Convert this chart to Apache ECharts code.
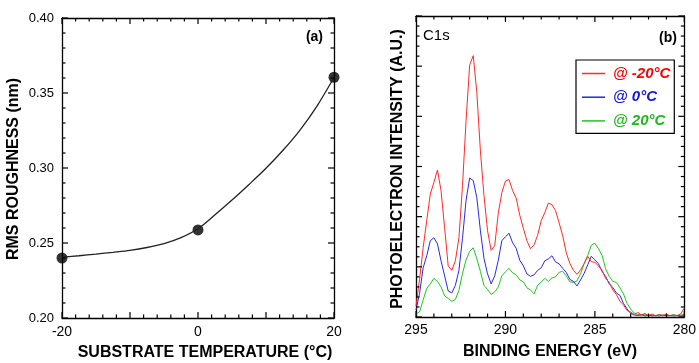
<!DOCTYPE html>
<html>
<head>
<meta charset="utf-8">
<script src="https://cdn.jsdelivr.net/npm/echarts@6/dist/echarts.min.js"></script>
<style>
  html, body { margin: 0; padding: 0; background: #fff; }
  #chart { width: 699px; height: 363px; }
</style>
</head>
<body>
<div id="chart"></div>
<script>
// (a) RMS roughness vs substrate temperature
const temps = [-20, 0, 20];
const roughness = [0.2400, 0.2587, 0.3605];
// smooth guide curve
const fitTemps = [-20, -17.5, -15, -12.5, -10, -7.5, -5, -2.5, 0, 2.5, 5, 7.5, 10, 12.5, 15, 17.5, 20];
const fitValues = [0.2405, 0.2415, 0.2426, 0.2438, 0.2451, 0.2470, 0.2496, 0.2536, 0.2595,
                   0.2688, 0.2786, 0.2890, 0.2998, 0.3118, 0.3253, 0.3413, 0.3603];

// (b) C1s spectra, binding energy in eV
const energies = [
  295.0, 294.8, 294.6, 294.4, 294.2, 294.0, 293.8, 293.6, 293.4, 293.2,
  293.0, 292.8, 292.6, 292.4, 292.2, 292.0, 291.8, 291.6, 291.4, 291.2,
  291.0, 290.8, 290.6, 290.4, 290.2, 290.0, 289.8, 289.6, 289.4, 289.2,
  289.0, 288.8, 288.6, 288.4, 288.2, 288.0, 287.8, 287.6, 287.4, 287.2,
  287.0, 286.8, 286.6, 286.4, 286.2, 286.0, 285.8, 285.6, 285.4, 285.2,
  285.0, 284.8, 284.6, 284.4, 284.2, 284.0, 283.8, 283.6, 283.4, 283.2,
  283.0, 282.8, 282.6, 282.4, 282.2, 282.0, 281.8, 281.6, 281.4, 281.2,
  281.0, 280.8, 280.6, 280.4, 280.2, 280.0
];
const minus20 = [
  0.22, 0.75, 1.38, 1.92, 2.45, 2.68, 2.93, 2.52, 1.78, 1.02,
  0.93, 1.12, 1.58, 2.62, 3.92, 5.02, 5.21, 4.48, 3.31, 2.42,
  1.72, 1.33, 1.42, 2.07, 2.48, 2.71, 2.74, 2.52, 2.37, 2.03,
  1.77, 1.52, 1.36, 1.44, 1.63, 1.92, 2.08, 2.27, 2.24, 2.12,
  1.88, 1.62, 1.28, 1.07, 0.93, 0.85, 0.94, 1.06, 1.21, 1.10,
  1.09, 1.02, 0.93, 0.77, 0.69, 0.54, 0.45, 0.31, 0.24, 0.13,
  0.10, 0.05, 0.09, 0.04, 0.07, 0.03, 0.06, 0.02, 0.05, 0.03,
  0.06, 0.02, 0.04, 0.03, 0.06, 0.18
];
const zero = [
  0.14, 0.47, 0.98, 1.22, 1.52, 1.58, 1.46, 1.12, 0.82, 0.52,
  0.48, 0.63, 0.93, 1.57, 2.33, 2.77, 2.72, 2.38, 1.72, 1.17,
  0.86, 0.66, 0.82, 1.13, 1.52, 1.60, 1.67, 1.48, 1.37, 1.13,
  1.02, 0.86, 0.81, 0.84, 0.93, 0.98, 1.12, 1.16, 1.22, 1.10,
  1.06, 0.97, 0.89, 0.75, 0.71, 0.62, 0.74, 0.87, 1.04, 1.21,
  1.14, 1.06, 0.91, 0.81, 0.66, 0.59, 0.48, 0.43, 0.27, 0.16,
  0.07, 0.04, 0.03, 0.05, 0.02, 0.04, 0.02, 0.03, 0.02, 0.04,
  0.02, 0.03, 0.02, 0.03, 0.02, 0.03
];
const plus20 = [
  0.06, 0.10, 0.34, 0.57, 0.66, 0.77, 0.71, 0.60, 0.42, 0.37,
  0.31, 0.35, 0.53, 0.87, 1.14, 1.31, 1.38, 1.16, 0.91, 0.63,
  0.55, 0.45, 0.50, 0.60, 0.82, 0.90, 0.97, 0.88, 0.84, 0.74,
  0.70, 0.58, 0.54, 0.46, 0.63, 0.70, 0.77, 0.71, 0.78, 0.80,
  0.89, 0.91, 0.82, 0.70, 0.69, 0.72, 0.86, 1.07, 1.23, 1.43,
  1.47, 1.36, 1.23, 0.96, 0.81, 0.71, 0.69, 0.58, 0.46, 0.27,
  0.16, 0.08, 0.05, 0.03, 0.06, 0.02, 0.04, 0.03, 0.05, 0.02,
  0.04, 0.03, 0.05, 0.02, 0.04, 0.05
];
const legendNames = ["@ -20°C", "@ 0°C", "@ 20°C"];
const lineColors = ["#ff2a2a", "#2a2ae0", "#22c422"];
const textColors = ["#ff0000", "#1414dc", "#1fb81f"];

// tick marks of both frames (drawn inward on all four sides)
const aXMajor = [-20, -10, 0, 10, 20];
const aXMinor = [-18, -16, -14, -12, -8, -6, -4, -2, 2, 4, 6, 8, 12, 14, 16, 18];
const aYMajor = [0.20, 0.25, 0.30, 0.35, 0.40];
const aYMinor = [0.21, 0.22, 0.23, 0.24, 0.26, 0.27, 0.28, 0.29,
                 0.31, 0.32, 0.33, 0.34, 0.36, 0.37, 0.38, 0.39];
const bXMajor = [295, 290, 285, 280];
const bXMinor = [294, 293, 292, 291, 289, 288, 287, 286, 284, 283, 282, 281];
const bYMajor = [0, 1, 2, 3, 4, 5, 6];
const bYMinor = [0.2, 0.4, 0.6, 0.8, 1.2, 1.4, 1.6, 1.8, 2.2, 2.4, 2.6, 2.8,
                 3.2, 3.4, 3.6, 3.8, 4.2, 4.4, 4.6, 4.8, 5.2, 5.4, 5.6, 5.8];

const FONT = "'Liberation Sans', Arial, sans-serif";

const xLeft = { min: -20, max: 20, interval: 10 };
const yLeft = { min: 0.2, max: 0.4, interval: 0.05 };
const xRight = { min: 280, max: 295, interval: 5, inverse: true };
const yRight = { min: 0, max: 6, interval: 1 };

// one side of a plot frame; ticks come from the custom series below
function frameAxis(gridIndex, position, range, label) {
  return {
    gridIndex: gridIndex,
    position: position,
    type: "value",
    min: range.min,
    max: range.max,
    interval: range.interval,
    inverse: !!range.inverse,
    axisLine: { show: true, onZero: false, lineStyle: { color: "#000", width: 1.3 } },
    axisTick: { show: false },
    minorTick: { show: false },
    splitLine: { show: false },
    axisLabel: label || { show: false },
  };
}

// inward ticks on both opposite sides, placed through the axes' own scales
function tickSeries(axisIndex, xr, yr, xMajor, xMinor, yMajor, yMinor) {
  const rows = [].concat(
    xMajor.map((v) => [v, 6, 0]),
    xMinor.map((v) => [v, 3.5, 0]),
    yMajor.map((v) => [v, 6, 1]),
    yMinor.map((v) => [v, 3.5, 1])
  );
  return {
    type: "custom",
    xAxisIndex: axisIndex,
    yAxisIndex: axisIndex,
    silent: true,
    z: 5,
    data: rows,
    encode: { x: 0, y: -1 },
    renderItem: function (params, api) {
      const v = api.value(0), len = api.value(1), isY = api.value(2);
      const a = isY ? api.coord([xr.min, v]) : api.coord([v, yr.min]);
      const b = isY ? api.coord([xr.max, v]) : api.coord([v, yr.max]);
      const k = isY ? 0 : 1;
      const dir = b[k] > a[k] ? 1 : -1;
      const style = { stroke: "#000", lineWidth: 1.2 };
      const seg = (p, d) => isY
        ? { type: "line", shape: { x1: p[0], y1: p[1], x2: p[0] + d * len, y2: p[1] }, style: style }
        : { type: "line", shape: { x1: p[0], y1: p[1], x2: p[0], y2: p[1] + d * len }, style: style };
      return { type: "group", children: [seg(a, dir), seg(b, -dir)] };
    },
  };
}

const chart = echarts.init(document.getElementById("chart"));

const option = {
  animation: false,
  backgroundColor: "#fff",
  grid: [
    { left: 62, right: 365, top: 18, bottom: 45 },
    { left: 416, right: 14, top: 16, bottom: 46 },
  ],
  xAxis: [
    frameAxis(0, "bottom", xLeft, {
      show: true, color: "#000", fontFamily: FONT, fontSize: 14, margin: 7,
      formatter: (v) => (v === -10 || v === 10 ? "" : String(v)),
    }),
    frameAxis(0, "top", xLeft),
    frameAxis(1, "bottom", xRight, {
      show: true, color: "#000", fontFamily: FONT, fontSize: 14, margin: 6,
    }),
    frameAxis(1, "top", xRight),
  ],
  yAxis: [
    frameAxis(0, "left", yLeft, {
      show: true, color: "#000", fontFamily: FONT, fontSize: 13, margin: 8,
      formatter: (v) => v.toFixed(2),
    }),
    frameAxis(0, "right", yLeft),
    frameAxis(1, "left", yRight),
    frameAxis(1, "right", yRight),
  ],
  legend: {
    data: legendNames.map((n, i) => ({
      name: n,
      textStyle: { color: textColors[i] },
    })),
    orient: "vertical",
    left: 576,
    top: 60,
    padding: [6, 4, 5, 6],
    icon: "rect",
    itemWidth: 23,
    itemHeight: 1.5,
    itemGap: 8.7,
    borderColor: "#000",
    borderWidth: 1.2,
    borderRadius: 0,
    backgroundColor: "#fff",
    selectedMode: false,
    textStyle: {
      fontFamily: FONT,
      fontSize: 15,
      lineHeight: 14,
      fontWeight: "bold",
      fontStyle: "italic",
      padding: [0, 0, 0, 3],
    },
  },
  series: [
    {
      type: "line",
      xAxisIndex: 0,
      yAxisIndex: 0,
      data: fitTemps.map((t, i) => [t, fitValues[i]]),
      smooth: 0.3,
      symbol: "none",
      lineStyle: { color: "#222", width: 1.3 },
      silent: true,
    },
    {
      type: "scatter",
      xAxisIndex: 0,
      yAxisIndex: 0,
      data: temps.map((t, i) => [t, roughness[i]]),
      symbolSize: 11,
      itemStyle: { color: "#000" },
    },
    tickSeries(0, xLeft, yLeft, aXMajor, aXMinor, aYMajor, aYMinor),
    tickSeries(2, xRight, yRight, bXMajor, bXMinor, bYMajor, bYMinor),
  ].concat([minus20, zero, plus20].map((vals, i) => ({
    name: legendNames[i],
    type: "line",
    xAxisIndex: 2,
    yAxisIndex: 2,
    data: energies.map((e, j) => [e, vals[j]]),
    symbol: "none",
    color: lineColors[i],
    lineStyle: { color: lineColors[i], width: 1 },
    z: 3 - i,
  }))),
  graphic: [
    {
      type: "text", x: 14, y: 169, rotation: Math.PI / 2,
      style: { text: "RMS ROUGHNESS (nm)", align: "center", verticalAlign: "middle",
               font: "bold 16px " + FONT, fill: "#000" },
    },
    {
      type: "text", x: 205, y: 353,
      style: { text: "SUBSTRATE TEMPERATURE (°C)", align: "center", verticalAlign: "middle",
               font: "bold 16px " + FONT, fill: "#000" },
    },
    {
      type: "text", x: 323, y: 37,
      style: { text: "(a)", align: "right", verticalAlign: "middle",
               font: "bold 14px " + FONT, fill: "#000" },
    },
    {
      type: "text", x: 398, y: 169, rotation: Math.PI / 2,
      style: { text: "PHOTOELECTRON INTENSITY (A.U.)", align: "center", verticalAlign: "middle",
               font: "bold 16px " + FONT, fill: "#000" },
    },
    {
      type: "text", x: 550, y: 352,
      style: { text: "BINDING ENERGY (eV)", align: "center", verticalAlign: "middle",
               font: "bold 16px " + FONT, fill: "#000" },
    },
    {
      type: "text", x: 423, y: 36,
      style: { text: "C1s", align: "left", verticalAlign: "middle",
               font: "15px " + FONT, fill: "#000" },
    },
    {
      type: "text", x: 677, y: 38,
      style: { text: "(b)", align: "right", verticalAlign: "middle",
               font: "bold 14px " + FONT, fill: "#000" },
    },
  ],
};

chart.setOption(option);
</script>
</body>
</html>
